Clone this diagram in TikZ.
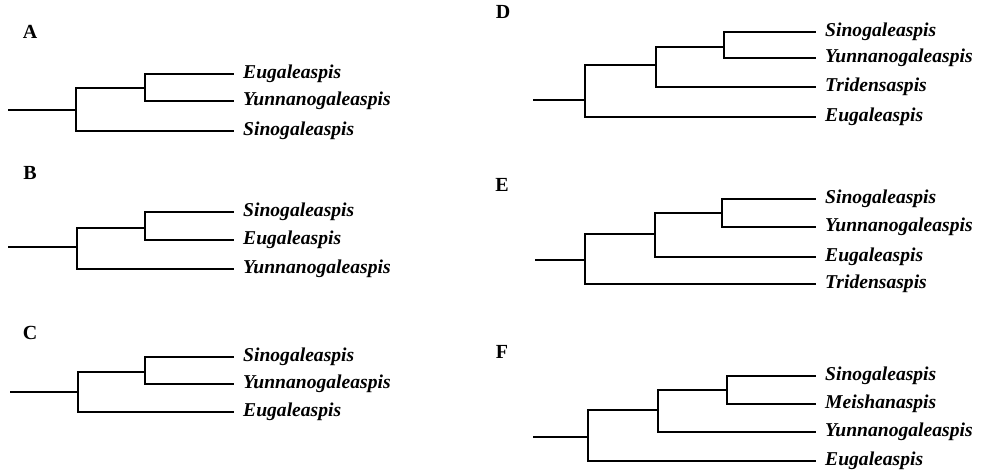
\documentclass[tikz,border=0pt]{standalone}
\usepackage{fontspec}
\setmainfont{Liberation Serif}
\usepackage{tikz}

\begin{document}
\begin{tikzpicture}[x=1pt, y=-1pt,
      taxon/.style={anchor=west, inner xsep=9pt, inner ysep=2pt,
                    font=\fontsize{19.6}{22}\selectfont\bfseries\itshape},
      panel/.style={font=\fontsize{20}{22}\selectfont\bfseries},
      branch/.style={line width=1.6pt},
    ]
    \useasboundingbox (0,0) rectangle (982,476);

    % ── Panel A ──
    \node[panel] (labA) at (30,32) {A};
    \node[taxon] (a1) at (234,74)  {Eugaleaspis};
    \node[taxon] (a2) at (234,101) {Yunnanogaleaspis};
    \node[taxon] (a3) at (234,131) {Sinogaleaspis};
    \coordinate (a0) at (8,110);
    \coordinate (aR) at (76,110);
    \coordinate (aX) at (145,88);
    \draw[branch] (a0) -- (aR) |- (aX) |- (a1.west);
    \draw[branch] (aX) |- (a2.west);
    \draw[branch] (aR) |- (a3.west);

    % ── Panel B ──
    \node[panel] (labB) at (30,173) {B};
    \node[taxon] (b1) at (234,212) {Sinogaleaspis};
    \node[taxon] (b2) at (234,240) {Eugaleaspis};
    \node[taxon] (b3) at (234,269) {Yunnanogaleaspis};
    \coordinate (b0) at (8,247);
    \coordinate (bR) at (77,247);
    \coordinate (bX) at (145,228);
    \draw[branch] (b0) -- (bR) |- (bX) |- (b1.west);
    \draw[branch] (bX) |- (b2.west);
    \draw[branch] (bR) |- (b3.west);

    % ── Panel C ──
    \node[panel] (labC) at (30,333) {C};
    \node[taxon] (c1) at (234,357) {Sinogaleaspis};
    \node[taxon] (c2) at (234,384) {Yunnanogaleaspis};
    \node[taxon] (c3) at (234,412) {Eugaleaspis};
    \coordinate (c0) at (10,392);
    \coordinate (cR) at (78,392);
    \coordinate (cX) at (145,372);
    \draw[branch] (c0) -- (cR) |- (cX) |- (c1.west);
    \draw[branch] (cX) |- (c2.west);
    \draw[branch] (cR) |- (c3.west);

    % ── Panel D ──
    \node[panel] (labD) at (503,12) {D};
    \node[taxon] (d1) at (816,32)  {Sinogaleaspis};
    \node[taxon] (d2) at (816,58)  {Yunnanogaleaspis};
    \node[taxon] (d3) at (816,87)  {Tridensaspis};
    \node[taxon] (d4) at (816,117) {Eugaleaspis};
    \coordinate (d0) at (533,100);
    \coordinate (dR) at (585,100);
    \coordinate (dX) at (656,65);
    \coordinate (dY) at (724,47);
    \draw[branch] (d0) -- (dR) |- (dX) |- (dY) |- (d1.west);
    \draw[branch] (dY) |- (d2.west);
    \draw[branch] (dX) |- (d3.west);
    \draw[branch] (dR) |- (d4.west);

    % ── Panel E ──
    \node[panel] (labE) at (502,185) {E};
    \node[taxon] (e1) at (816,199) {Sinogaleaspis};
    \node[taxon] (e2) at (816,227) {Yunnanogaleaspis};
    \node[taxon] (e3) at (816,257) {Eugaleaspis};
    \node[taxon] (e4) at (816,284) {Tridensaspis};
    \coordinate (e0) at (535,260);
    \coordinate (eR) at (585,260);
    \coordinate (eX) at (655,234);
    \coordinate (eY) at (722,213);
    \draw[branch] (e0) -- (eR) |- (eX) |- (eY) |- (e1.west);
    \draw[branch] (eY) |- (e2.west);
    \draw[branch] (eX) |- (e3.west);
    \draw[branch] (eR) |- (e4.west);

    % ── Panel F ──
    \node[panel] (labF) at (502,352) {F};
    \node[taxon] (f1) at (816,376) {Sinogaleaspis};
    \node[taxon] (f2) at (816,404) {Meishanaspis};
    \node[taxon] (f3) at (816,432) {Yunnanogaleaspis};
    \node[taxon] (f4) at (816,461) {Eugaleaspis};
    \coordinate (f0) at (533,437);
    \coordinate (fR) at (588,437);
    \coordinate (fX) at (658,410);
    \coordinate (fY) at (727,390);
    \draw[branch] (f0) -- (fR) |- (fX) |- (fY) |- (f1.west);
    \draw[branch] (fY) |- (f2.west);
    \draw[branch] (fX) |- (f3.west);
    \draw[branch] (fR) |- (f4.west);
\end{tikzpicture}
\end{document}
